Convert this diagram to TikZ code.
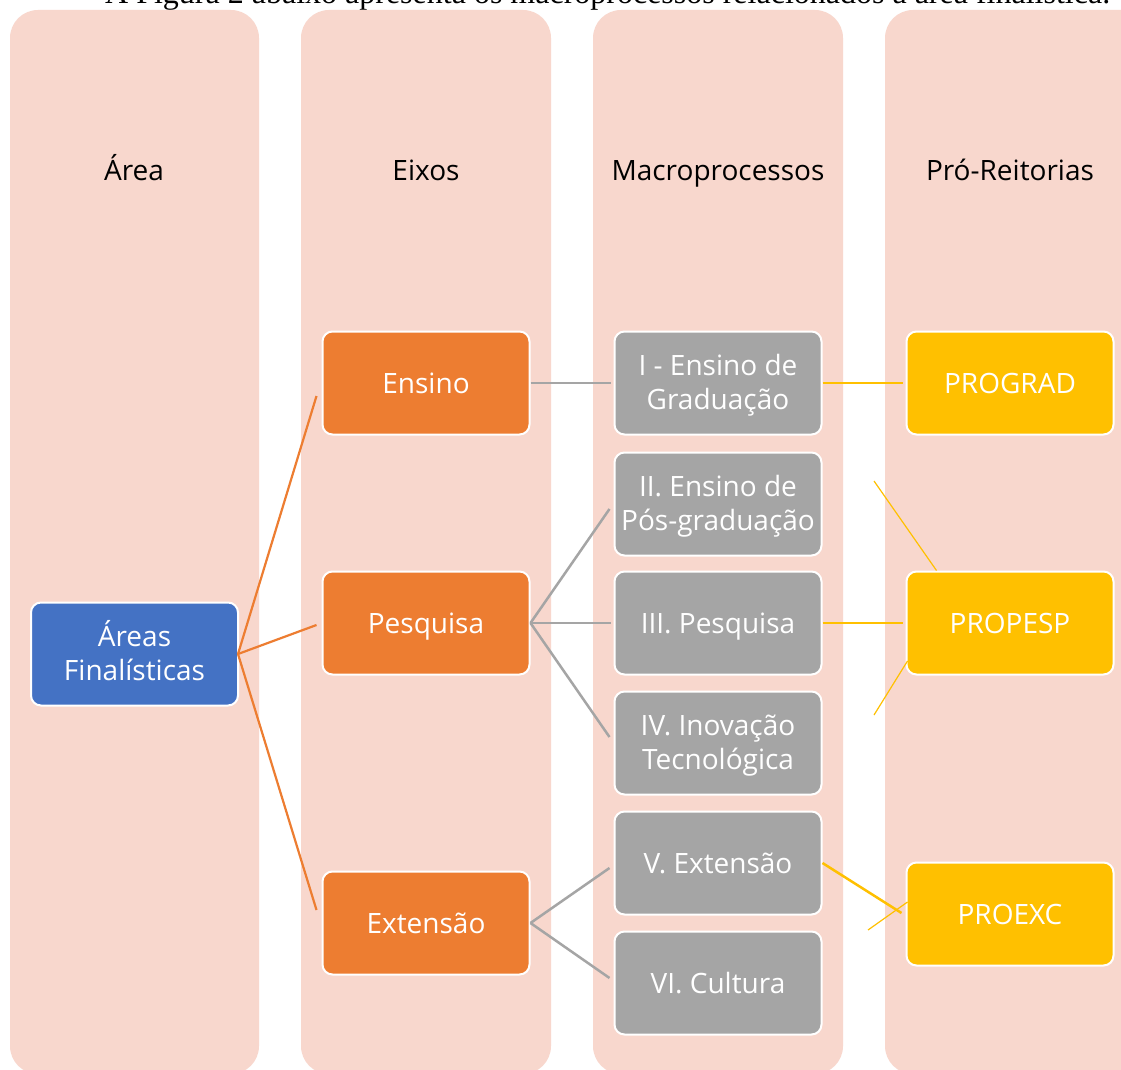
\documentclass[tikz,border=0pt]{standalone}
\usepackage{fontspec}
\setmainfont{Open Sans}
\newfontfamily\timesfont{Liberation Serif}
\usetikzlibrary{calc}
\definecolor{colpink}{RGB}{248,215,205}
\definecolor{blueb}{RGB}{68,114,196}
\definecolor{orangeb}{RGB}{237,125,49}
\definecolor{grayb}{RGB}{165,165,165}
\definecolor{yellowb}{RGB}{255,192,0}
\newcommand\firstl{\rule{0pt}{26pt}}
\newcommand\lastl{\rule[-8pt]{0pt}{8pt}}
\tikzset{
  column/.style={fill=colpink, draw=none, rounded corners=28pt},
  header/.style={font=\fontsize{28}{34}\selectfont, text=black, anchor=base, inner sep=0pt},
  boxn/.style={draw=white, line width=2pt, rounded corners=10pt, minimum width=207pt, minimum height=103pt,
    text=white, font=\fontsize{28}{34}\selectfont, inner sep=0pt},
  oneline/.style={text height=20pt, text depth=0pt},
  twoline/.style={align=center},
  bluebox/.style={boxn, fill=blueb},
  orangebox/.style={boxn, fill=orangeb},
  graybox/.style={boxn, fill=grayb},
  yellowbox/.style={boxn, fill=yellowb},
  oline/.style={draw=orangeb, line width=2.2pt},
  gline/.style={draw=grayb, line width=2.5pt},
  yline/.style={draw=yellowb, line width=2.5pt},
  ythin/.style={draw=yellowb, line width=1.2pt},
}
\begin{document}
\begin{tikzpicture}[x=1pt,y=-1pt]
\clip (0,0) rectangle (1121,1070);
\fill[white] (0,0) rectangle (1121,1070);
% top text (cut off by the top edge, as in the reference)
\node[anchor=base west, inner sep=0pt, font=\timesfont\fontsize{32}{38}\selectfont] (toptext) at (105,4) {A Figura 2 abaixo apresenta os macroprocessos relacionados à área finalística.};
% columns
\fill[column] (10,10) rectangle (259,1074);
\fill[column] (301,10) rectangle (551,1074);
\fill[column] (593,10) rectangle (843,1074);
\fill[column] (885,10) rectangle (1160,1074);
% headers
\node[header] (h1) at (134,180) {Área};
\node[header] (h2) at (426,180) {Eixos};
\node[header] (h3) at (718,180) {Macroprocessos};
\node[header] (h4) at (1010,180) {Pró-Reitorias};
% nodes
\node[bluebox, twoline] (area) at (134.5,654) {\firstl Áreas\\Finalísticas\lastl};
\node[orangebox, oneline] (ens) at (426,383) {Ensino};
\node[orangebox, oneline] (pes) at (426,623) {Pesquisa};
\node[orangebox, oneline] (ext) at (426,923) {Extensão};
\node[graybox, twoline] (m1) at (718,383) {\firstl I - Ensino de\\Graduação\lastl};
\node[graybox, twoline] (m2) at (718,504) {\firstl II. Ensino de\\Pós-graduação\lastl};
\node[graybox, oneline] (m3) at (718,623) {III. Pesquisa};
\node[graybox, twoline] (m4) at (718,743) {\firstl IV. Inovação\\Tecnológica\lastl};
\node[graybox, oneline] (m5) at (718,863) {V. Extensão};
\node[graybox, oneline] (m6) at (718,983) {VI. Cultura};
\node[yellowbox, oneline] (p1) at (1010,383) {PROGRAD};
\node[yellowbox, oneline] (p2) at (1010,623) {PROPESP};
\node[yellowbox, oneline] (p3) at (1010,914) {PROEXC};
% connectors
\draw[oline] ($(area.east)+(-1,0)$) -- ($(ens.west)+(-5,13)$);
\draw[oline] ($(area.east)+(-1,0)$) -- ($(pes.west)+(-5,2)$);
\draw[oline] ($(area.east)+(-1,0)$) -- ($(ext.west)+(-5,-13)$);
\draw[gline] (ens.east) -- ($(m1.west)+(-3,0)$);
\draw[gline] (pes.east) -- ($(m2.west)+(-4,5)$);
\draw[gline] (pes.east) -- ($(m3.west)+(-3,0)$);
\draw[gline] (pes.east) -- ($(m4.west)+(-4,-6)$);
\draw[gline] (ext.east) -- ($(m5.west)+(-4,5)$);
\draw[gline] (ext.east) -- ($(m6.west)+(-4,-5)$);
\draw[yline] (m1.east) -- ($(p1.west)+(-3,0)$);
\draw[yline] (m3.east) -- ($(p2.west)+(-3,0)$);
\draw[yline] (m5.east) -- ($(p3.west)+(-4,-1)$);
\coordinate (t1) at (874,481);
\coordinate (t2) at (874,715);
\coordinate (t3) at (868,930);
\draw[ythin] (t1) -- ($(p2.north west)+(31,0)$);
\draw[ythin] (t2) -- ($(p2.west)+(2,38)$);
\draw[ythin] (t3) -- ($(p3.west)+(2,-12)$);
\end{tikzpicture}
\end{document}
